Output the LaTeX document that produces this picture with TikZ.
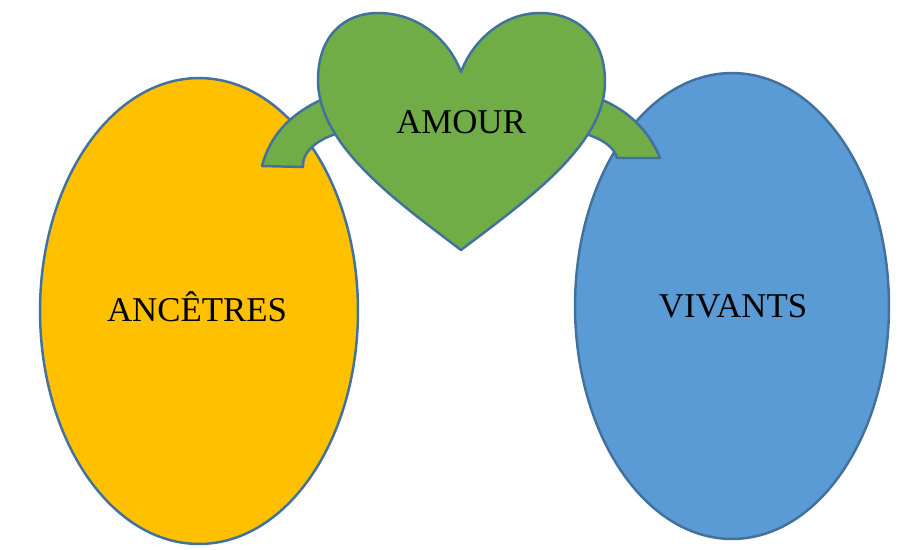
\documentclass[tikz,border=0pt]{standalone}
\usepackage{fontspec}
\setmainfont{Liberation Serif}
\usetikzlibrary{shapes.geometric}
\definecolor{edge}{RGB}{65,113,156}
\definecolor{orangefill}{RGB}{255,192,0}
\definecolor{bluefill}{RGB}{91,155,213}
\definecolor{greenfill}{RGB}{112,173,71}
\tikzset{
  shapeline/.style={draw=edge, line width=1.4pt, line join=round},
  blob/.style={shapeline, ellipse, inner sep=0pt},
  label/.style={inner sep=0pt, font=\fontsize{19.8}{24}\selectfont}
}
\begin{document}
\begin{tikzpicture}[x=0.02cm, y=-0.02cm]
\useasboundingbox (0,0) rectangle (902,549);
% ellipses
\node[blob, fill=orangefill, minimum width=6.36cm, minimum height=9.32cm] (anc) at (199,311) {};
\node[blob, fill=bluefill, minimum width=6.28cm, minimum height=9.32cm] (viv) at (732,306) {};
% arms
\path[shapeline, fill=greenfill] (262,166) .. controls (272,128) and (300,108) .. (330,96)
  -- (342,132) .. controls (320,138) and (302,150) .. (303,167) -- cycle;
\path[shapeline, fill=greenfill] (660,158) .. controls (648,128) and (625,108) .. (595,97)
  -- (582,133) .. controls (602,138) and (615,148) .. (617,158) -- cycle;
% heart
\path[shapeline, fill=greenfill] (461,250) .. controls (395,200) and (318,145) .. (318,80)
  .. controls (318,35) and (345,13) .. (378,13)
  .. controls (420,13) and (450,42) .. (461,72)
  .. controls (472,42) and (502,13) .. (540,13)
  .. controls (575,13) and (605,35) .. (605,82)
  .. controls (605,145) and (527,200) .. (461,250) -- cycle;
\node[label] (ancl) at (197,307) {ANCÊTRES};
\node[label] (vivl) at (733,306) {VIVANTS};
\node[label] (amour) at (461,122) {AMOUR};
\end{tikzpicture}
\end{document}
